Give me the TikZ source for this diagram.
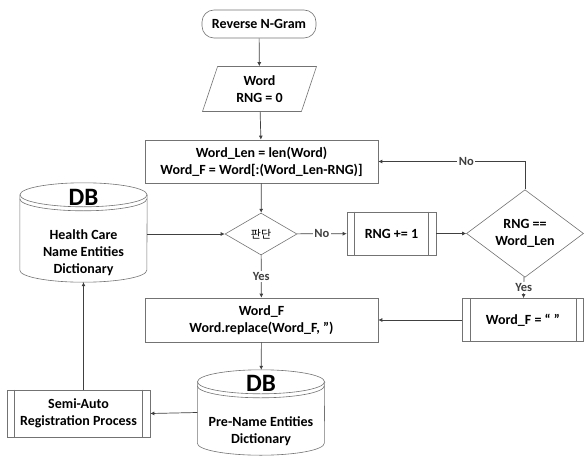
\documentclass[tikz,border=0pt]{standalone}
\usepackage{fontspec}
\setmainfont{Carlito}
\newfontfamily\krfont{Noto Sans CJK KR}
\usetikzlibrary{shapes.geometric,arrows.meta}

\begin{document}
\begin{tikzpicture}[x=1pt,y=1pt,
    font=\fontsize{14}{17}\selectfont\bfseries,
    every edge/.style={draw,black!75,line width=0.7pt,-{Latex[length=4pt,width=4pt]}},
    box/.style={rectangle,draw=black!55,line width=0.6pt,align=center,inner sep=2pt},
    term node/.style={box,rounded corners=12pt,minimum width=114,minimum height=28},
    io node/.style={box,trapezium,trapezium left angle=64,trapezium right angle=116,trapezium stretches body,minimum width=114,minimum height=45},
    proc node/.style={box,minimum width=233,minimum height=43},
    sub node/.style={box},
    cond node/.style={box,diamond,inner sep=0pt},
    db node/.style={rectangle,minimum width=127,align=center,inner sep=0pt},
    db title/.style={font=\fontsize{25}{25}\selectfont\bfseries},
    lbl/.style={fill=white,inner sep=1.5pt,anchor=center,font=\fontsize{12.5}{14}\selectfont\bfseries}]
        \useasboundingbox (0,0) rectangle (585,-457);
        \node[term node] (start) at (259,-24) {Reverse N-Gram};
        \node[io node] (input) at (259.5,-89) {Word\\RNG = 0};
        \node[proc node] (len) at (261.5,-161.5) {Word\_Len = len(Word)\\Word\_F = Word[:(Word\_Len-RNG)]};
        \node[cond node,minimum width=72,minimum height=42] (judge) at (261,-234) {\fontsize{11}{11}\krfont\mdseries 판단};
        \node[sub node,minimum width=89,minimum height=43] (inc) at (391.5,-233.5) {RNG += 1};
        \node[cond node,minimum width=117,minimum height=50] (same) at (525,-233.5) {RNG ==\\Word\_Len};
        \node[sub node,minimum width=121,minimum height=43] (empty) at (523,-320) {Word\_F = “ ”};
        \node[proc node,minimum height=44] (repl) at (261.5,-320) {Word\_F\\Word.replace(Word\_F, '')};
        \node[sub node,minimum width=143,minimum height=47] (semi) at (78.5,-413.5) {Semi-Auto\\Registration Process};
        \node[db node,minimum height=99] (hcdb) at (83.5,-232.5) {};
        \node[db node,minimum height=85] (pndb) at (261,-412.5) {};
        \node[db title] (hcdbtitle) at (83.5,-197) {DB};
        \node[align=center] (hcdbtext) at (83.5,-253) {Health Care\\Name Entities\\Dictionary};
        \node[db title] (pndbtitle) at (261,-383) {DB};
        \node[align=center] (pndbtext) at (261,-431) {Pre-Name Entities\\Dictionary};
        % cylinders
        \foreach \db in {hcdb,pndb} {
          \draw[black!55,line width=0.6pt] ([yshift=-12pt]\db.north west) -- ([yshift=12pt]\db.south west)
            arc[start angle=180,end angle=360,x radius=63.5pt,y radius=12pt] -- ([yshift=-12pt]\db.north east);
          \draw[black!55,line width=0.6pt] ([yshift=-12pt]\db.north) ellipse[x radius=63.5pt,y radius=12pt];
          \draw[black!55,line width=0.6pt] ([yshift=-16pt]\db.north west) arc[start angle=180,end angle=360,x radius=63.5pt,y radius=12pt];
        }
        % inner bars of the sub-process boxes
        \foreach \sp in {inc,empty,semi} {
          \draw[black!55,line width=0.6pt] ([xshift=8pt]\sp.north west) -- ([xshift=8pt]\sp.south west);
          \draw[black!55,line width=0.6pt] ([xshift=-8pt]\sp.north east) -- ([xshift=-8pt]\sp.south east);
        }
        \path
          (start) edge (input)
          (input) edge (len)
          (len) edge (judge)
          (hcdb.east |- judge.west) edge (judge.west)
          (judge) edge node[lbl,pos=0.5] {No} (inc)
          (inc) edge (same)
          (judge) edge node[lbl,pos=0.5] {Yes} (repl)
          (same) edge node[lbl,pos=0.5] {Yes} (empty)
          (empty) edge (repl)
          (repl) edge (pndb)
          (pndb.west) edge (semi.east)
          (semi.north -| hcdb.south) edge (hcdb.south);
        \draw[black!75,line width=0.7pt,-{Latex[length=4pt,width=4pt]}] (same.north) |- node[lbl,pos=0.7] {No} (len.east);
      \end{tikzpicture}
\end{document}
